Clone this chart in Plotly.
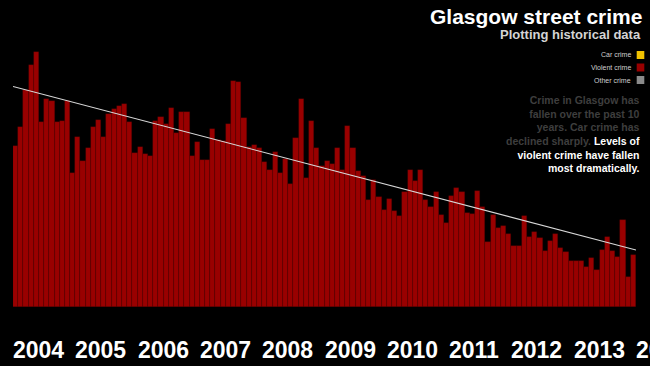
import plotly.graph_objects as go

# ---------------- data ----------------
years = [2004, 2005, 2006, 2007, 2008, 2009, 2010, 2011, 2012, 2013, 2014]
months_per_year = 12

# monthly violent crime (Jan 2004 .. Dec 2013)
violent = [
    322, 360, 434, 484, 510, 371, 416, 413, 371, 372, 412, 268,   # 2004
    341, 292, 318, 360, 375, 341, 386, 397, 402, 406, 370, 308,   # 2005
    321, 306, 303, 373, 381, 367, 399, 348, 391, 391, 302, 331,   # 2006
    294, 295, 357, 334, 333, 366, 453, 450, 378, 321, 324, 318,   # 2007
    290, 274, 310, 268, 296, 246, 339, 417, 258, 373, 318, 283,   # 2008
    292, 287, 318, 274, 362, 319, 272, 262, 214, 254, 221, 195,   # 2009
    217, 193, 182, 231, 274, 253, 274, 214, 201, 230, 185, 168,   # 2010
    223, 238, 230, 188, 186, 233, 201, 131, 184, 158, 163, 147,   # 2011
    123, 123, 183, 140, 150, 139, 113, 132, 147, 119, 111, 93,    # 2012
    93, 93, 81, 98, 75, 114, 140, 112, 101, 175, 61, 105,         # 2013
]
trend = [441, 114]   # trend line value at start and end of the period

legend_labels = ["Car crime", "Violent crime", "Other crime"]
legend_colors = ["#f2c200", "#990000", "#8a8a8a"]

title = "Glasgow street crime"
subtitle = "Plotting historical data"
blurb_grey = "Crime in Glasgow has<br>fallen over the past 10<br>years. Car crime has<br>declined sharply. "
blurb_white = "Levels of<br>violent crime have fallen<br>most dramatically."

# ---------------- figure ----------------
W, H = 650, 366
L, R, T, B = 13, 14, 0, 59
PW, PH = W - L - R, H - T - B

def px_x(p):
    return (p - L) / PW

def px_y(p):
    return (H - B - p) / PH

n = len(violent)
x = list(range(n))

fig = go.Figure()
fig.add_trace(go.Bar(
    x=x, y=violent,
    marker=dict(color="#990000", line=dict(color="rgba(60,0,0,0.45)", width=0.6)),
    hoverinfo="skip", showlegend=False,
))
fig.add_trace(go.Scatter(
    x=[-0.5, n - 0.5], y=trend, mode="lines",
    line=dict(color="#d8d8d8", width=1.1),
    hoverinfo="skip", showlegend=False,
))

FONT = "Liberation Sans, Arial, Helvetica, sans-serif"
ann = []
for i, yr in enumerate(years):
    ann.append(dict(
        x=-0.5 + i * months_per_year, y=0, xref="x", yref="paper",
        text=f"<b>{yr}</b>", showarrow=False, xanchor="left", yanchor="middle",
        yshift=-43, xshift=-2,
        font=dict(family=FONT, size=23, color="#ffffff"),
    ))

ann.append(dict(x=px_x(644), y=px_y(16.5), xref="paper", yref="paper",
                text=f"<b>{title}</b>", showarrow=False, xanchor="right", yanchor="middle",
                font=dict(family=FONT, size=21, color="#ffffff")))
ann.append(dict(x=px_x(643), y=px_y(34.5), xref="paper", yref="paper",
                text=f"<b>{subtitle}</b>", showarrow=False, xanchor="right", yanchor="middle",
                font=dict(family=FONT, size=13, color="#d4d4d4")))

legend_y = [55, 67.5, 80]
shapes = []
for lab, col, ly in zip(legend_labels, legend_colors, legend_y):
    ann.append(dict(x=px_x(633), y=px_y(ly), xref="paper", yref="paper",
                    text=lab, showarrow=False, xanchor="right", yanchor="middle",
                    font=dict(family=FONT, size=7, color="#cfcfcf")))
    shapes.append(dict(type="rect", xref="paper", yref="paper",
                       x0=px_x(636.7), x1=px_x(644.3), y0=px_y(ly - 4), y1=px_y(ly + 4),
                       fillcolor=col, line=dict(width=0)))

ann.append(dict(x=px_x(642), y=px_y(133.5), xref="paper", yref="paper",
                text=f"<b><span style='color:#3e3e3e'>{blurb_grey}</span>"
                     f"<span style='color:#ffffff'>{blurb_white}</span></b>",
                showarrow=False, xanchor="right", yanchor="middle", align="right",
                font=dict(family=FONT, size=10.5, color="#3e3e3e")))

fig.update_layout(
    width=W, height=H,
    margin=dict(l=L, r=R, t=T, b=B, pad=0),
    paper_bgcolor="#000000", plot_bgcolor="#000000",
    bargap=0,
    xaxis=dict(range=[-0.5, n - 0.5], visible=False, fixedrange=True),
    yaxis=dict(range=[0, 2 * PH], visible=False, fixedrange=True),
    annotations=ann, shapes=shapes,
    showlegend=False,
)

fig.write_html(
    "out.html",
    config={"displayModeBar": False},
    post_script="document.body.style.margin='0';document.body.style.background='#000';"
                "document.body.style.overflow='hidden';",
)
